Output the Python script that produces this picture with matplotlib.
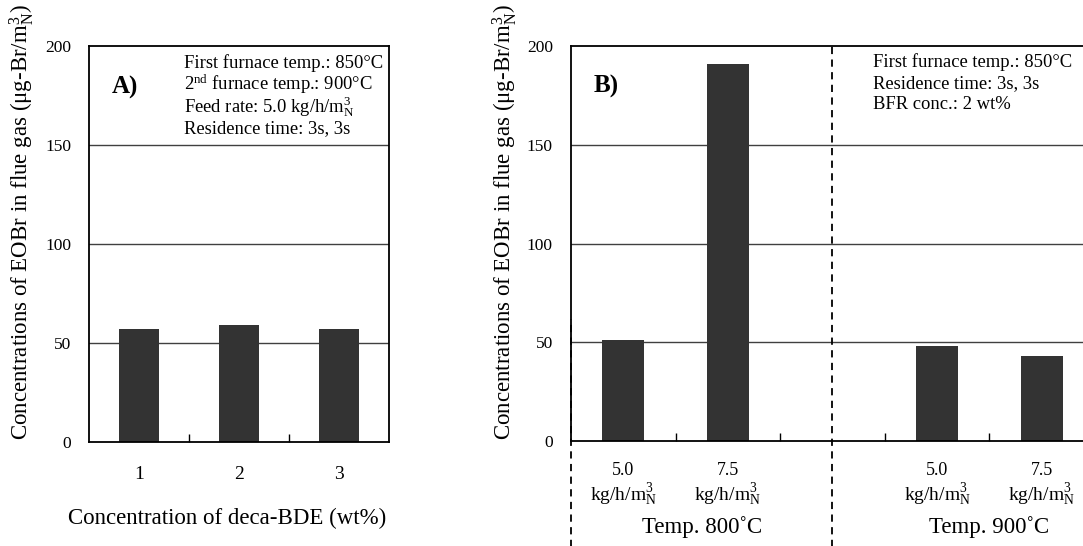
import matplotlib
matplotlib.use("Agg")
import matplotlib.pyplot as plt
import matplotlib.transforms as mtransforms

plt.rcParams['font.family'] = ['Liberation Serif', 'DejaVu Serif']
plt.rcParams['mathtext.fontset'] = 'custom'
plt.rcParams['mathtext.rm'] = 'Liberation Serif'
plt.rcParams['mathtext.it'] = 'Liberation Serif:italic'
plt.rcParams['mathtext.bf'] = 'Liberation Serif:bold'

# Panel A data
conc_labels = ['1', '2', '3']
conc_values = [57, 59, 57]

# Panel B data (middle slot is the empty gap between the two temperatures)
feed_labels = ['5.0', '7.5', '', '5.0', '7.5']
feed_values = [51, 191, None, 48, 43]
feed_unit = 'kg/h/$\\mathrm{m}^3_\\mathrm{N}$'
temp_groups = ['Temp. 800˚C', 'Temp. 900˚C']

ylabel = 'Concentrations of EOBr in flue gas (μg-Br/$\\mathrm{m}^3_\\mathrm{N}$)'
bar_color = '#333333'

fig = plt.figure(figsize=(10.83, 5.46), dpi=100)
axA = fig.add_axes([0.0822, 0.1905, 0.2770, 0.7253])
axB = fig.add_axes([0.5272, 0.1923, 0.4829, 0.7234])


def style_axis(ax, n):
    ax.set_ylim(0, 200)
    ax.set_yticks([0, 50, 100, 150, 200])
    ax.set_xlim(-0.5, n - 0.5)
    ax.set_xticks(range(n))
    ax.set_xticks([i + 0.5 for i in range(n - 1)], minor=True)
    ax.tick_params(axis='x', which='major', length=0, labelsize=13, pad=15)
    ax.tick_params(axis='x', which='minor', length=6, direction='in', width=1)
    ax.tick_params(axis='y', length=0, labelsize=12.5, pad=13)
    for y in [50, 100, 150]:
        ax.axhline(y, color='0.25', lw=1.0, zorder=0)
    for s in ax.spines.values():
        s.set_linewidth(1.3)


# ---- Panel A ----
style_axis(axA, len(conc_values))
axA.bar(range(len(conc_values)), conc_values, width=0.4, color=bar_color, zorder=2)
axA.set_xticklabels(conc_labels)
axA.tick_params(axis='x', which='major', labelsize=14, pad=17)
axA.set_ylabel(ylabel, fontsize=16.5)
axA.yaxis.set_label_coords(-0.177, 0.555)
axA.set_xlabel('Concentration of deca-BDE (wt%)', fontsize=16.5)
axA.xaxis.set_label_coords(0.46, -0.167)
axA.text(0.12, 0.894, 'A)', transform=axA.transAxes, fontsize=18,
         fontweight='bold', ha='center', va='center')
notesA = ['First furnace temp.: 850°C', '2$^{\\mathrm{nd}}$ furnace temp.: 900°C',
          'Feed rate: 5.0 kg/h/$\\mathrm{m}^3_\\mathrm{N}$', 'Residence time: 3s, 3s']
for i, t in enumerate(notesA):
    axA.text(0.317, 0.957 - 0.055 * i, t, transform=axA.transAxes,
             fontsize=13.4, ha='left', va='center')

# ---- Panel B ----
style_axis(axB, len(feed_values))
xs = [i for i, v in enumerate(feed_values) if v is not None]
vals = [v for v in feed_values if v is not None]
axB.bar(xs, vals, width=0.4, color=bar_color, zorder=2)
axB.set_xticklabels(feed_labels)
axB.spines['right'].set_visible(False)
axB.set_ylabel(ylabel, fontsize=16.5)
axB.yaxis.set_label_coords(-0.10, 0.555)
axB.text(0.067, 0.898, 'B)', transform=axB.transAxes, fontsize=18,
         fontweight='bold', ha='center', va='center')
notesB = ['First furnace temp.: 850°C', 'Residence time: 3s, 3s', 'BFR conc.: 2 wt%']
for i, t in enumerate(notesB):
    axB.text(0.577, 0.959 - 0.054 * i, t, transform=axB.transAxes,
             fontsize=13.4, ha='left', va='center')

trans = mtransforms.blended_transform_factory(axB.transData, axB.transAxes)
for x in xs:
    axB.text(x, -0.137, feed_unit, transform=trans, fontsize=14, ha='center', va='center')
axB.text(0.75, -0.218, temp_groups[0], transform=trans, fontsize=16.5, ha='center', va='center')
axB.text(3.5, -0.218, temp_groups[1], transform=trans, fontsize=16.5, ha='center', va='center')

# dashed separators
axB.axvline(2.0, ymin=-0.27, ymax=1.0, color='black', ls=(0, (4, 3)), lw=1.3, clip_on=False, zorder=3)
axB.axvline(-0.5, ymin=-0.27, ymax=0.31, color='black', ls=(0, (4, 3)), lw=1.3, clip_on=False, zorder=3)

fig.savefig('out.png', dpi=100)
